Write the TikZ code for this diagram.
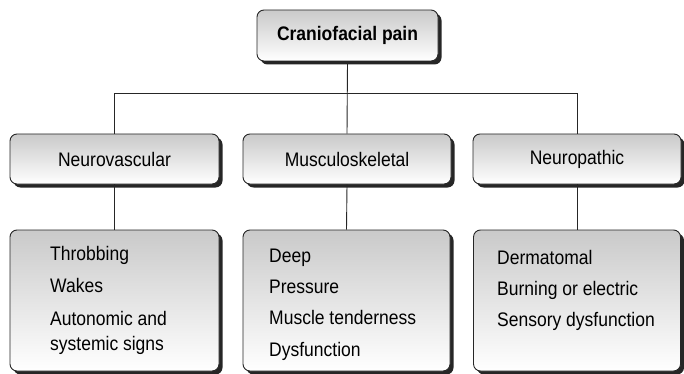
\documentclass[tikz,border=0pt]{standalone}
\usepackage{fontspec}
\setmainfont{Liberation Sans}
\usetikzlibrary{shadows}
\newcommand{\tx}[1]{\scalebox{1}[1.12]{#1}}
\begin{document}
\begin{tikzpicture}[x=1pt,y=-1pt,
  box/.style={draw=black!85, line width=0.9pt, rounded corners=7pt,
    top color=black!21, bottom color=white, inner sep=0pt,
    drop shadow={shadow xshift=3.5pt, shadow yshift=-3.5pt, fill=black!85, opacity=1}},
  hdr/.style={box, minimum height=50pt},
  lst/.style={box, minimum height=141pt},
  item/.style={anchor=base west, inner sep=0pt, font=\fontsize{17.5}{20}\selectfont},
  conn/.style={draw=black!85, line width=0.9pt}]
\useasboundingbox (0,0) rectangle (684,374);
% top
\node[box, minimum width=181pt, minimum height=51pt, font=\bfseries\fontsize{17.5}{20}\selectfont] (top) at (347.5,35.5) {\tx{Craniofacial pain}};
% headers
\node[hdr, minimum width=209pt, font=\fontsize{17.5}{20}\selectfont] (nv) at (114.5,159) {\tx{Neurovascular}};
\node[hdr, minimum width=208pt, font=\fontsize{17.5}{20}\selectfont] (ms) at (347,159) {\tx{Musculoskeletal}};
\node[hdr, minimum width=208pt, font=\fontsize{17.5}{20}\selectfont] (np) at (577,159) {\tx{Neuropathic}};
% list boxes
\node[lst, minimum width=209pt] (nvl) at (114.5,300.5) {};
\node[lst, minimum width=207pt] (msl) at (346.5,300.5) {};
\node[lst, minimum width=207pt] (npl) at (577,300.5) {};
% connectors
\coordinate (bus) at (347.5,93);
\draw[conn] (top.south) -- (ms.north);
\draw[conn] (nv.north) -- (nv.north |- bus) -- (np.north |- bus) -- (np.north);
\draw[conn] (nv.south) -- (nvl.north);
\draw[conn] (ms.south) -- (msl.north);
\draw[conn] (np.south) -- (npl.north);
% list texts
\node[item] (nv1) at (50,260) {\tx{Throbbing}};
\node[item] (nv2) at (50,292) {\tx{Wakes}};
\node[item] (nv3) at (50,325) {\tx{Autonomic and}};
\node[item] (nv4) at (50,350) {\tx{systemic signs}};
\node[item] (ms1) at (269,262) {\tx{Deep}};
\node[item] (ms2) at (269,293) {\tx{Pressure}};
\node[item] (ms3) at (269,324) {\tx{Muscle tenderness}};
\node[item] (ms4) at (269,356) {\tx{Dysfunction}};
\node[item] (np1) at (497,264) {\tx{Dermatomal}};
\node[item] (np2) at (497,295) {\tx{Burning or electric}};
\node[item] (np3) at (497,326) {\tx{Sensory dysfunction}};
\end{tikzpicture}
\end{document}
